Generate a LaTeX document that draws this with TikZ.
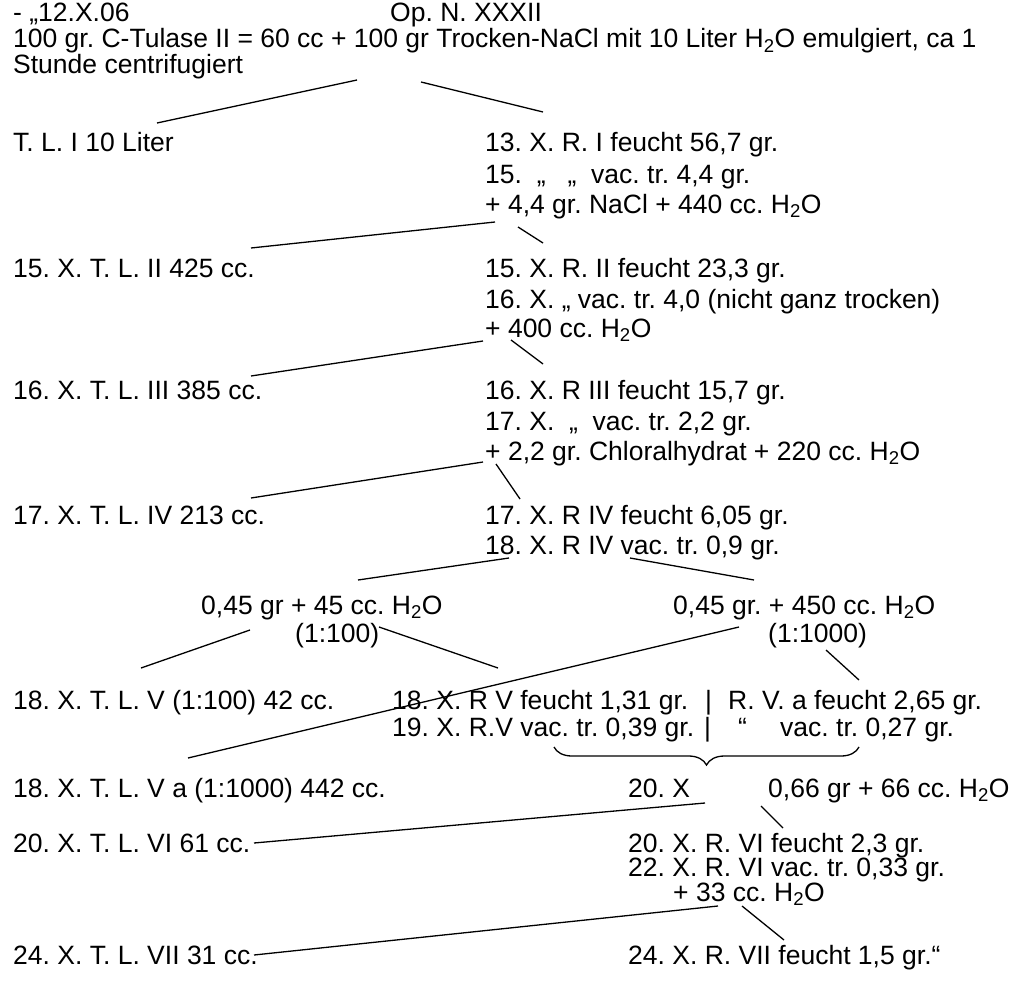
\documentclass[tikz,border=0pt]{standalone}
\usepackage{fontspec}
\setmainfont{Liberation Sans}
\usepackage{tikz}
\usetikzlibrary{decorations.pathreplacing}
\frenchspacing

\begin{document}
\begin{tikzpicture}[x=1pt, y=-1pt,
  txt/.style={anchor=base west, inner sep=0pt, font=\fontsize{26.5}{30}\selectfont},
  link/.style={line width=1.3pt},
  bracket/.style={line width=1.3pt, decorate, decoration={brace, mirror, amplitude=18pt}}
]
  \useasboundingbox (0,0) rectangle (1016,987);

  % Kopf
  \node[txt] (date) at (13,22) {- „12.X.06};
  \node[txt] (opnr) at (390,22) {Op. N. XXXII};
  \node[txt] (intro1) at (13,48) {100 gr. C-Tulase II = 60 cc + 100 gr Trocken-NaCl mit 10 Liter H\textsubscript{2}O emulgiert, ca 1};
  \node[txt] (intro2) at (13,74) {Stunde centrifugiert};

  % Stufe I
  \node[txt] (tl1) at (13,152) {T. L. I 10 Liter};
  \node[txt] (r1a) at (485,152) {13. X. R. I feucht 56,7 gr.};
  \node[txt] (r1b) at (485,183) {15.\ \ „\ \ \ „\ \ vac. tr. 4,4 gr.};
  \node[txt] (r1c) at (485,213) {+ 4,4 gr. NaCl + 440 cc. H\textsubscript{2}O};

  % Stufe II
  \node[txt] (tl2) at (13,277) {15. X. T. L. II 425 cc.};
  \node[txt] (r2a) at (485,277) {15. X. R. II feucht 23,3 gr.};
  \node[txt] (r2b) at (485,308) {16. X. „ vac. tr. 4,0 (nicht ganz trocken)};
  \node[txt] (r2c) at (485,337) {+ 400 cc. H\textsubscript{2}O};

  % Stufe III
  \node[txt] (tl3) at (13,399) {16. X. T. L. III 385 cc.};
  \node[txt] (r3a) at (485,399) {16. X. R III feucht 15,7 gr.};
  \node[txt] (r3b) at (485,430) {17. X.\ \ „\ \ vac. tr. 2,2 gr.};
  \node[txt] (r3c) at (485,460) {+ 2,2 gr. Chloralhydrat + 220 cc. H\textsubscript{2}O};

  % Stufe IV
  \node[txt] (tl4) at (13,524) {17. X. T. L. IV 213 cc.};
  \node[txt] (r4a) at (485,524) {17. X. R IV feucht 6,05 gr.};
  \node[txt] (r4b) at (485,554) {18. X. R IV vac. tr. 0,9 gr.};

  % Teilung 1:100 / 1:1000
  \node[txt] (mixa) at (201,614) {0,45 gr + 45 cc. H\textsubscript{2}O};
  \node[txt] (ratioa) at (295,642) {(1:100)};
  \node[txt] (mixb) at (673,614) {0,45 gr. + 450 cc. H\textsubscript{2}O};
  \node[txt] (ratiob) at (768,642) {(1:1000)};

  % Stufe V
  \node[txt] (tl5) at (13,709) {18. X. T. L. V (1:100) 42 cc.};
  \node[txt] (r5a) at (392,709) {18. X. R V feucht 1,31 gr.};
  \node[txt] (bar1) at (705,709) {|};
  \node[txt] (r5va) at (728,709) {R. V. a feucht 2,65 gr.};
  \node[txt] (r5b) at (392,736) {19. X. R.V vac. tr. 0,39 gr.};
  \node[txt] (bar2) at (704,736) {|};
  \node[txt] (ditto) at (738,736) {“};
  \node[txt] (r5vb) at (780,736) {vac. tr. 0,27 gr.};
  \node[txt] (tl5a) at (13,797) {18. X. T. L. V a (1:1000) 442 cc.};
  \node[txt] (day20) at (628,797) {20. X};
  \node[txt] (mixc) at (768,797) {0,66 gr + 66 cc. H\textsubscript{2}O};

  % Stufe VI
  \node[txt] (tl6) at (13,852) {20. X. T. L. VI 61 cc.};
  \node[txt] (r6a) at (628,852) {20. X. R. VI feucht 2,3 gr.};
  \node[txt] (r6b) at (628,876) {22. X. R. VI vac. tr. 0,33 gr.};
  \node[txt] (r6c) at (673,901) {+ 33 cc. H\textsubscript{2}O};

  % Stufe VII
  \node[txt] (tl7) at (13,964) {24. X. T. L. VII 31 cc.};
  \node[txt] (r7a) at (628,964) {24. X. R. VII feucht 1,5 gr.“};

  % Anfangs- und Endpunkte der Striche
  \coordinate (f0l) at (357,80);  \coordinate (e0l) at (157,123);
  \coordinate (f0r) at (421,82);  \coordinate (e0r) at (543,112);
  \coordinate (f1l) at (495,222); \coordinate (e1l) at (251,248);
  \coordinate (f1r) at (518,227); \coordinate (e1r) at (543,243);
  \coordinate (f2l) at (483,341); \coordinate (e2l) at (251,376);
  \coordinate (f2r) at (511,340); \coordinate (e2r) at (543,364);
  \coordinate (f3l) at (483,462); \coordinate (e3l) at (251,498);
  \coordinate (f3r) at (496,464); \coordinate (e3r) at (520,499);
  \coordinate (f4l) at (509,558); \coordinate (e4l) at (358,580);
  \coordinate (f4r) at (630,558); \coordinate (e4r) at (754,580);
  \coordinate (fal) at (250,630); \coordinate (eal) at (141,668);
  \coordinate (far) at (379,627); \coordinate (ear) at (498,668);
  \coordinate (fbl) at (739,627); \coordinate (ebl) at (188,758);
  \coordinate (fbr) at (826,650); \coordinate (ebr) at (859,680);
  \coordinate (bl) at (554,747);  \coordinate (br) at (859,747);
  \coordinate (f5l) at (705,803); \coordinate (e5l) at (254,843);
  \coordinate (f5r) at (761,806); \coordinate (e5r) at (783,828);
  \coordinate (f6l) at (718,906); \coordinate (e6l) at (254,955);
  \coordinate (f6r) at (742,906); \coordinate (e6r) at (784,940);

  \draw[link] (f0l) -- (e0l);
  \draw[link] (f0r) -- (e0r);
  \draw[link] (f1l) -- (e1l);
  \draw[link] (f1r) -- (e1r);
  \draw[link] (f2l) -- (e2l);
  \draw[link] (f2r) -- (e2r);
  \draw[link] (f3l) -- (e3l);
  \draw[link] (f3r) -- (e3r);
  \draw[link] (f4l) -- (e4l);
  \draw[link] (f4r) -- (e4r);
  \draw[link] (fal) -- (eal);
  \draw[link] (far) -- (ear);
  \draw[link] (fbl) -- (ebl);
  \draw[link] (fbr) -- (ebr);
  \draw[bracket] (bl) -- (br);
  \draw[link] (f5l) -- (e5l);
  \draw[link] (f5r) -- (e5r);
  \draw[link] (f6l) -- (e6l);
  \draw[link] (f6r) -- (e6r);
\end{tikzpicture}
\end{document}
